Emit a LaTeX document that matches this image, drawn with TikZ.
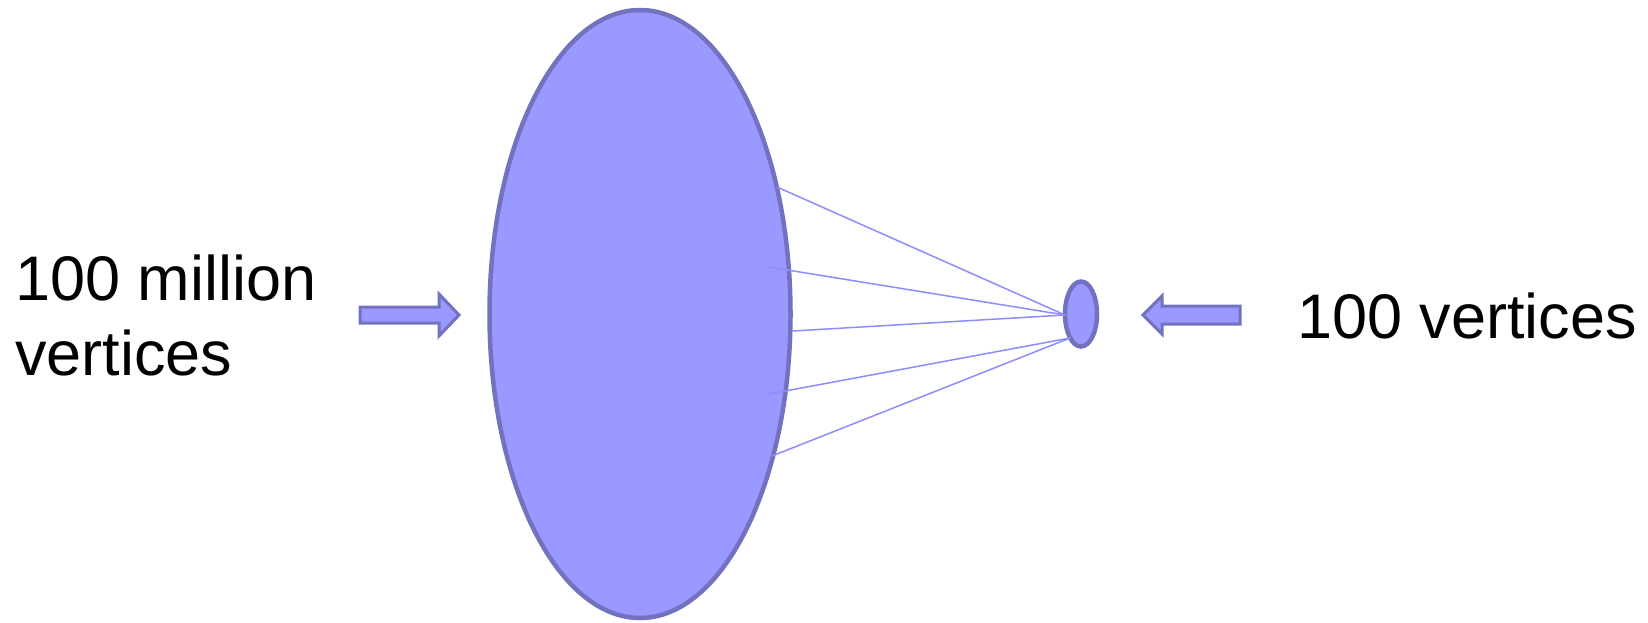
\documentclass[tikz,border=0pt]{standalone}
\usepackage{fontspec}
\setmainfont{Liberation Sans}
\usetikzlibrary{shapes.geometric}
\definecolor{blobfill}{HTML}{9999FF}
\definecolor{blobedge}{HTML}{7272C0}
\definecolor{linkcol}{HTML}{8C8CFF}
\begin{document}
\begin{tikzpicture}[x=1pt,y=-1pt,
  blob/.style={ellipse, draw=blobedge, fill=blobfill, line width=4.5pt, inner sep=0pt},
  link/.style={draw=linkcol, line width=1.5pt},
  fatarrow/.style={draw=blobedge, fill=blobfill, line width=3pt, line join=miter},
  label/.style={inner sep=0pt, font=\fontsize{63}{75}\selectfont, align=left}]
\useasboundingbox (0,0) rectangle (1648,622);
% ellipses
\node[blob, minimum width=301pt, minimum height=608pt] (big) at (640,314) {};
\node[blob, minimum width=32pt, minimum height=65pt] (small) at (1081,314) {};
% connection points
\coordinate (p1) at (777,187);
\coordinate (p2) at (769,267);
\coordinate (p3) at (793,331);
\coordinate (p4) at (769,394);
\coordinate (p5) at (772,456);
\coordinate (q1) at (1065,315);
\coordinate (q2) at (1070,338);
\draw[link] (p1) -- (q1);
\draw[link] (p2) -- (q1);
\draw[link] (p3) -- (q1);
\draw[link] (p4) -- (q2);
\draw[link] (p5) -- (q2);
% block arrows
\coordinate (la) at (360,315);
\coordinate (ra) at (1240,315);
\draw[fatarrow] (la) ++(0,-8) -- ++(79,0) -- ++(0,-13) -- (459,315) -- (439,336) -- ++(0,-13) -- (360,323) -- cycle;
\draw[fatarrow] (ra) ++(0,-9) -- ++(-78,0) -- ++(0,-10) -- (1143,315) -- (1162,334) -- ++(0,-10) -- (1240,324) -- cycle;
% labels
\node[label, anchor=base west] (lt) at (15,375) {100 million\\vertices};
\node[label, anchor=base west] (rt) at (1297,338) {100 vertices};
\end{tikzpicture}
\end{document}
